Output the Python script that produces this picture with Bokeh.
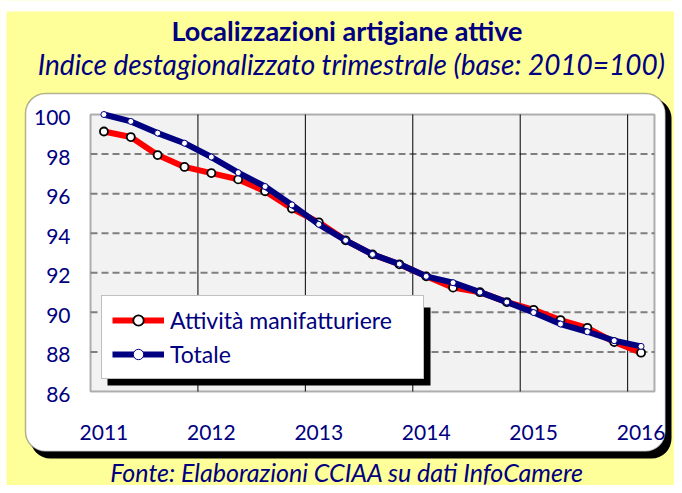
from bokeh.plotting import figure
from bokeh.models import (ColumnDataSource, BoxAnnotation, Label, Legend, LegendItem, Range1d)
from bokeh.core.properties import value
from bokeh.embed import file_html
from bokeh.resources import INLINE

# ---------------- data ----------------
periods = ["2011-T1", "2011-T2", "2011-T3", "2011-T4",
           "2012-T1", "2012-T2", "2012-T3", "2012-T4",
           "2013-T1", "2013-T2", "2013-T3", "2013-T4",
           "2014-T1", "2014-T2", "2014-T3", "2014-T4",
           "2015-T1", "2015-T2", "2015-T3", "2015-T4",
           "2016-T1"]
manifatturiere = [99.14, 98.86, 97.95, 97.35, 97.04, 96.72, 96.12, 95.25, 94.55,
                  93.64, 92.93, 92.43, 91.82, 91.25, 91.02, 90.52, 90.13, 89.61,
                  89.22, 88.50, 87.96]
totale = [100.0, 99.65, 99.06, 98.55, 97.85, 97.06, 96.36, 95.43, 94.45,
          93.64, 92.93, 92.44, 91.82, 91.50, 91.02, 90.52, 89.99, 89.41,
          89.02, 88.57, 88.28]
years = ["2011", "2012", "2013", "2014", "2015", "2016"]
y_ticks = [86, 88, 90, 92, 94, 96, 98, 100]

title_text = "Localizzazioni artigiane attive"
subtitle_text = "Indice destagionalizzato trimestrale (base: 2010=100)"
footer_text = "Fonte: Elaborazioni CCIAA su dati InfoCamere"
series_names = ["Attività manifatturiere", "Totale"]

# ---------------- styles / layout ----------------
NAVY = "#000080"
RED = "#FF0000"
YELLOW = "#FFFF99"
FONT = "Lato"

W, H = 674, 485
# plot area in canvas pixels
PL, PR, PT, PB = 90, 654, 114, 391

x = list(range(len(periods)))
x0, x1 = -0.5, len(periods) - 0.5
y0, y1 = y_ticks[0], y_ticks[-1]

# canvas pixel -> data coordinates
def dx(px):
    return x0 + (px - PL) / (PR - PL) * (x1 - x0)

def dy(py):
    return y1 - (py - PT) / (PB - PT) * (y1 - y0)

year_pos = [i for i, p in enumerate(periods) if p.endswith("T1")]
year_bounds = [i - 0.5 for i in year_pos if i > 0]
hgrid = y_ticks[1:-1]

source = ColumnDataSource(dict(x=x, m=manifatturiere, t=totale, period=periods))

p = figure(width=W, height=H, output_backend="svg", toolbar_location=None,
           x_range=Range1d(dx(0), dx(W)), y_range=Range1d(dy(H), dy(0)),
           x_axis_location=None, y_axis_location=None,
           min_border=0, min_border_left=0, min_border_right=0,
           min_border_top=0, min_border_bottom=0)
p.border_fill_color = YELLOW
p.background_fill_color = YELLOW
p.outline_line_color = None
p.title.visible = False
p.xgrid.visible = False
p.ygrid.visible = False

# white page strips (top & left of the yellow panel)
p.add_layout(BoxAnnotation(left=dx(-5), right=dx(W + 5), top=dy(-5), bottom=dy(11),
                           fill_color="white", fill_alpha=1, line_color=None, level="image"))
p.add_layout(BoxAnnotation(left=dx(-5), right=dx(6), top=dy(-5), bottom=dy(H + 5),
                           fill_color="white", fill_alpha=1, line_color=None, level="image"))
# rounded white chart box with shadow
p.add_layout(BoxAnnotation(left=dx(30), right=dx(671), top=dy(98), bottom=dy(458),
                           fill_color="black", fill_alpha=1, line_color=None,
                           border_radius=20, level="image"))
p.add_layout(BoxAnnotation(left=dx(25), right=dx(665), top=dy(93), bottom=dy(451),
                           fill_color="white", fill_alpha=1, line_color="black",
                           line_width=1.5, border_radius=20, level="image"))
# plot area
p.add_layout(BoxAnnotation(left=x0, right=x1, top=y1, bottom=y0,
                           fill_color="#F2F2F2", fill_alpha=1, line_color="black",
                           line_width=2, level="underlay"))

# grid lines inside the plot area
p.segment(x0=[x0] * len(hgrid), x1=[x1] * len(hgrid), y0=hgrid, y1=hgrid,
          line_color="#7F7F7F", line_width=2, line_dash="7 4")
p.segment(x0=year_bounds, x1=year_bounds, y0=[y0] * len(year_bounds),
          y1=[y1] * len(year_bounds), line_color="black", line_width=1)

# tick labels
p.text(x=year_pos, y=[dy(432)] * len(year_pos), text=years, text_align="center",
       text_baseline="middle", text_font=value(FONT), text_font_size="21px",
       text_color=NAVY)
p.text(x=[dx(70)] * len(y_ticks), y=y_ticks, text=[str(t) for t in y_ticks],
       text_align="right", text_baseline="middle", y_offset=3,
       text_font=value(FONT), text_font_size="21px", text_color=NAVY)

# series
r1 = p.line("x", "m", source=source, line_color=RED, line_width=6, line_join="round")
s1 = p.scatter("x", "m", source=source, size=8, fill_color="white",
               line_color="black", line_width=1.8)
r2 = p.line("x", "t", source=source, line_color=NAVY, line_width=6, line_join="round")
s2 = p.scatter("x", "t", source=source, size=6, fill_color="white",
               line_color=NAVY, line_width=1)

# legend with shadow
p.add_layout(BoxAnnotation(left=dx(107), right=dx(430), top=dy(307), bottom=dy(385),
                           fill_color="black", fill_alpha=1, line_color=None,
                           level="annotation"))
legend = Legend(items=[LegendItem(label=series_names[0], renderers=[r1, s1]),
                       LegendItem(label=series_names[1], renderers=[r2, s2])],
                location=(101, H - 379), orientation="vertical",
                border_line_color="#808080", border_line_width=1,
                background_fill_color="white", background_fill_alpha=1,
                label_text_font=FONT, label_text_font_size="23px",
                label_text_color=NAVY, glyph_width=52, glyph_height=26,
                label_height=26, label_width=243, spacing=6, padding=10,
                margin=0, label_standoff=6)
p.add_layout(legend)

# titles / footer
p.add_layout(Label(x=dx(346.5), y=dy(30), text=title_text, text_align="center",
                   text_baseline="middle", text_font=FONT, text_font_style="bold",
                   text_font_size="27px", text_color=NAVY))
p.add_layout(Label(x=dx(351), y=dy(63), text=subtitle_text, text_align="center",
                   text_baseline="middle", text_font=FONT, text_font_style="italic",
                   text_font_size="28px", text_color=NAVY))
p.add_layout(Label(x=dx(346.5), y=dy(471), text=footer_text, text_align="center",
                   text_baseline="middle", text_font=FONT, text_font_style="italic",
                   text_font_size="25px", text_color=NAVY))

open("out.html", "w").write(file_html(p, INLINE))
